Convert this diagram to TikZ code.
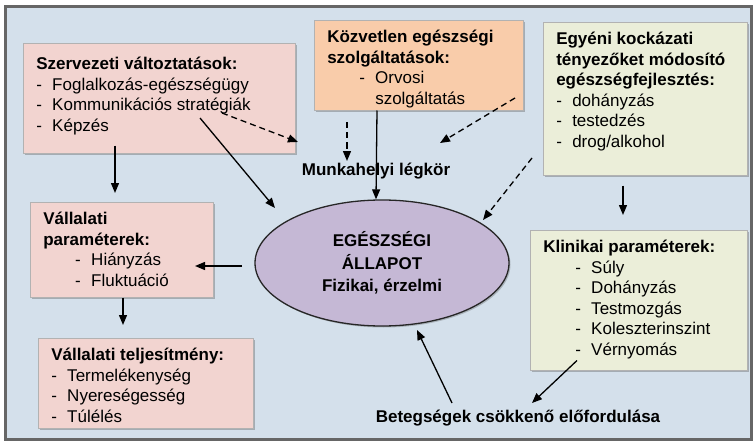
\documentclass[tikz,border=0pt]{standalone}
\usepackage{fontspec}
\setmainfont{Liberation Sans}
\usepackage{tikz}
\usetikzlibrary{arrows.meta,positioning,calc,shapes.geometric,shadows}
\definecolor{paleblue}{RGB}{212,224,235}
\definecolor{framegray}{gray}{0.40}
\definecolor{rosefill}{RGB}{242,212,208}
\definecolor{peachfill}{RGB}{249,204,170}
\definecolor{sagefill}{RGB}{235,238,217}
\definecolor{lilacfill}{RGB}{197,184,213}
\newcommand{\diagfont}{\fontsize{17}{20.5}\selectfont}
\newcommand{\panelbody}[3]{\parbox[c][#2][t]{#1}{#3}}
\newcommand{\pitem}[2][0pt]{\hspace*{#1}\makebox[16pt][l]{-}#2}
\tikzset{
  panel/.style={anchor=north west,draw=gray!60,line width=0.5pt,
                inner xsep=13pt,inner ysep=10pt,
                drop shadow={shadow xshift=2pt,shadow yshift=-2pt,
                             opacity=0.35,fill=black!70}},
  flow/.style={-{Triangle[length=10pt,width=8pt]},line width=1.3pt},
  flowdash/.style={flow,dash pattern=on 6pt off 4pt},
  tag/.style={font=\diagfont\bfseries,inner sep=1pt},
}

\begin{document}
\begin{tikzpicture}[x=1pt,y=-1pt,font=\diagfont]
  \useasboundingbox (0,0) rectangle (756,444);
  \draw[line width=3pt,draw=framegray,fill=paleblue] (5,7) rectangle (751,439);

  % boxes
  \node[panel,fill=rosefill] (szerv) at (23,43) {\panelbody{246pt}{90pt}{%
    \vspace*{4pt}\textbf{Szervezeti változtatások:}\\
    \pitem{Foglalkozás-egészségügy}\\
    \pitem{Kommunikációs stratégiák}\\
    \pitem{Képzés}}};
  \node[panel,fill=peachfill] (kozv) at (314,20) {\panelbody{183pt}{70pt}{%
    \textbf{Közvetlen egészségi}\\
    \textbf{szolgáltatások:}\\
    \pitem[32pt]{Orvosi}\\
    \hspace*{48pt}szolgáltatás}};
  \node[panel,fill=sagefill] (egyeni) at (543,22) {\panelbody{178pt}{133pt}{%
    \textbf{Egyéni kockázati}\\
    \textbf{tényezőket módosító}\\
    \textbf{egészségfejlesztés:}\\
    \pitem{dohányzás}\\
    \pitem{testedzés}\\
    \pitem{drog/alkohol}}};
  \node[panel,fill=rosefill] (vparam) at (30,202) {\panelbody{157pt}{75pt}{%
    \textbf{Vállalati}\\
    \textbf{paraméterek:}\\
    \pitem[32pt]{Hiányzás}\\
    \pitem[32pt]{Fluktuáció}}};
  \node[panel,fill=rosefill] (vtelj) at (38,338) {\panelbody{189pt}{70pt}{%
    \textbf{Vállalati teljesítmény:}\\
    \pitem{Termelékenység}\\
    \pitem{Nyereségesség}\\
    \pitem{Túlélés}}};
  \node[panel,fill=sagefill] (klin) at (530,230) {\panelbody{191pt}{120pt}{%
    \textbf{Klinikai paraméterek:}\\
    \pitem[32pt]{Súly}\\
    \pitem[32pt]{Dohányzás}\\
    \pitem[32pt]{Testmozgás}\\
    \pitem[32pt]{Koleszterinszint}\\
    \pitem[32pt]{Vérnyomás}}};

  \node[ellipse,draw=black!85,line width=1.3pt,fill=lilacfill,
        minimum width=254pt,minimum height=126pt,inner sep=0pt,align=center,
        font=\bfseries\fontsize{17}{22.5}\selectfont,
        drop shadow={shadow xshift=1.5pt,shadow yshift=-1.5pt,opacity=0.3,fill=black!70}]
        (health) at (382,263) {EGÉSZSÉGI\\ÁLLAPOT\\Fizikai, érzelmi};
  \node[tag] (munk) at (376,171) {Munkahelyi légkör};
  \node[tag] (beteg) at (518,418) {Betegségek csökkenő előfordulása};

  % connectors
  \draw[flow] ($(szerv.south west)+(92,-8)$) -- ($(vparam.north west)+(85,-9)$);
  \draw[flowdash] ($(szerv.north west)+(199,70)$) -- ($(munk.center)+(-78,-29)$);
  \draw[flow] ($(szerv.north west)+(177,75)$) -- ($(health.center)+(-107,-55)$);
  \draw[flowdash] ($(kozv.south west)+(33,12)$) -- ($(munk.center)+(-29,-10)$);
  \draw[flow] ($(kozv.south west)+(63,0)$) -- ($(health.north)+(-6,0)$);
  \draw[flowdash] ($(egyeni.north west)+(-28,76)$) -- ($(munk.center)+(64,-28)$);
  \draw[flowdash] ($(egyeni.north west)+(-11,136)$) -- ($(health.center)+(101,-43)$);
  \draw[flow] ($(egyeni.south west)+(80,10)$) -- ($(klin.north west)+(93,-15)$);
  \draw[flow] ($(health.center)+(-140,3)$) -- ($(vparam.north west)+(165,64)$);
  \draw[flow] ($(vparam.south west)+(93,0)$) -- ($(vtelj.north west)+(85,-13)$);
  \draw[flow] ($(klin.south west)+(47,-10)$) -- ($(beteg.center)+(14,-15)$);
  \draw[flow] ($(beteg.center)+(-66,-15)$) -- ($(health.center)+(35,67)$);
\end{tikzpicture}
\end{document}
